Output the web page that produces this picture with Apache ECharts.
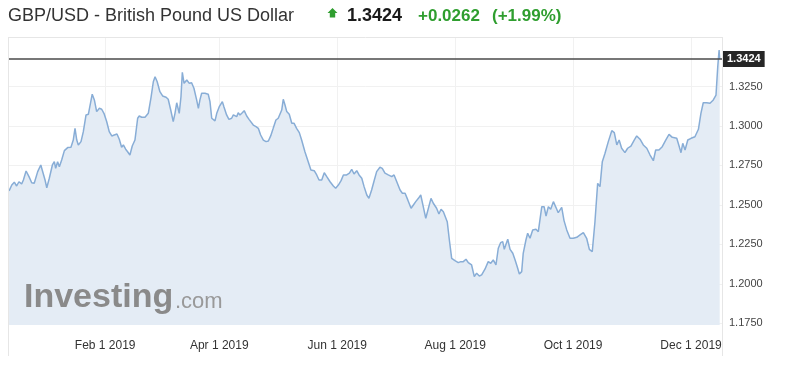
<!DOCTYPE html>
<html><head><meta charset="utf-8">
<script src="https://cdn.jsdelivr.net/npm/echarts@6/dist/echarts.min.js"></script>
<style>html,body{margin:0;padding:0;background:#fff;}#c{width:803px;height:375px;}</style>
</head><body><div id="c"></div>
<script>
const titleText = 'GBP/USD - British Pound US Dollar';
const lastPrice = 1.3424;
const changeText = '+0.0262';
const changePctText = '(+1.99%)';
// x positions: days since 2019-01-01
const tickDays = [31, 90, 151, 212, 273, 334];
const tickLabels = ['Feb 1 2019', 'Apr 1 2019', 'Jun 1 2019', 'Aug 1 2019', 'Oct 1 2019', 'Dec 1 2019'];
const yTicks = [1.175, 1.2, 1.225, 1.25, 1.275, 1.3, 1.325];

const dayOffsets = [
-18.7,-17.3,-16.0,-14.8,-13.6,-12.2,-11.3,-9.9,-8.4,-7.0,
-5.7,-3.9,-2.3,-1.3,-0.1,0.8,2.1,3.7,4.7,5.4,
6.4,7.3,8.5,9.9,11.6,13.3,14.5,15.4,16.3,17.1,
18.5,19.7,21.1,22.3,23.1,24.3,25.4,26.6,28.0,29.2,
30.5,31.8,33.1,34.4,35.7,37.1,38.3,39.5,40.4,41.6,
42.6,43.8,45.0,46.4,47.8,48.6,49.9,51.6,53.3,54.7,
55.9,56.8,57.9,59.3,60.7,62.5,63.6,64.9,66.2,67.1,
68.0,69.3,70.2,70.9,71.8,73.2,74.5,75.7,76.9,78.3,
79.2,80.0,80.9,82.6,84.3,85.2,86.1,87.8,88.7,90.0,
91.6,92.4,93.8,95.0,96.4,97.3,98.1,99.0,99.8,100.7,
101.9,102.9,104.2,105.4,106.3,107.6,109.0,110.2,111.4,112.8,
114.2,115.4,116.6,117.9,119.3,120.5,121.4,122.3,123.1,124.0,
124.9,126.2,127.5,128.7,130.0,131.4,132.6,134.3,136.0,137.4,
139.1,140.4,141.6,143.0,144.3,145.6,147.3,149.0,150.2,151.6,
153.0,154.2,155.9,157.3,158.5,159.7,161.1,162.3,163.7,164.9,
166.3,167.4,168.8,170.2,171.4,173.1,174.3,175.7,177.4,179.2,
180.4,181.8,183.5,184.7,186.1,187.5,189.2,190.4,191.6,193.0,
194.2,195.5,196.8,197.8,199.5,200.7,202.4,203.6,204.7,205.9,
206.7,207.9,209.0,210.2,211.9,213.6,214.9,216.2,217.6,218.8,
220.5,221.9,223.1,224.5,225.7,227.4,229.1,230.4,231.7,233.1,
234.3,235.5,236.6,237.4,239.2,240.4,241.8,243.0,244.1,245.2,
246.4,247.2,248.6,249.5,250.7,252.1,253.8,255.0,256.8,258.0,
259.0,260.2,261.4,262.8,264.1,265.3,267.1,268.3,269.7,271.4,
273.1,274.9,276.6,278.3,280.0,281.4,282.9,284.3,285.7,286.9,
288.1,289.5,291.2,293.0,294.3,295.6,296.8,298.1,299.8,301.2,
302.9,304.6,305.9,307.6,309.3,311.1,312.8,314.5,315.7,317.4,
319.1,320.9,322.6,324.3,326.6,327.8,328.8,329.7,330.9,332.3,
334.0,336.0,337.8,339.1,340.3,342.1,343.8,345.5,346.9,347.8,
348.5,348.8
];
const rates = [
1.2589,1.2626,1.2644,1.2620,1.2647,1.2633,1.2658,1.2715,1.2679,1.2641,
1.2637,1.2711,1.2753,1.2742,1.2658,1.2609,1.2669,1.2753,1.2774,1.2732,
1.2774,1.2742,1.2785,1.2844,1.2863,1.2865,1.2911,1.2985,1.2911,1.2880,
1.2901,1.2964,1.3070,1.3074,1.3080,1.3201,1.3165,1.3091,1.3112,1.3106,
1.3076,1.3027,1.2964,1.2937,1.2943,1.2949,1.2916,1.2865,1.2880,1.2853,
1.2837,1.2816,1.2873,1.2911,1.3049,1.3063,1.3055,1.3055,1.3080,1.3180,
1.3280,1.3312,1.3280,1.3217,1.3190,1.3182,1.3169,1.3101,1.3027,1.3080,
1.3147,1.3080,1.3185,1.3340,1.3270,1.3291,1.3270,1.3274,1.3239,1.3165,
1.3112,1.3165,1.3207,1.3207,1.3201,1.3154,1.3049,1.3032,1.3080,1.3122,
1.3154,1.3122,1.3070,1.3042,1.3049,1.3070,1.3080,1.3059,1.3084,1.3070,
1.3084,1.3097,1.3063,1.3042,1.3038,1.3006,1.2996,1.2985,1.2943,1.2911,
1.2901,1.2905,1.2937,1.2985,1.3038,1.3049,1.3042,1.3101,1.3169,1.3133,
1.3091,1.3074,1.3017,1.3017,1.2985,1.2958,1.2911,1.2837,1.2774,1.2721,
1.2717,1.2690,1.2658,1.2658,1.2704,1.2679,1.2647,1.2620,1.2606,1.2626,
1.2654,1.2690,1.2690,1.2701,1.2726,1.2696,1.2717,1.2690,1.2669,1.2616,
1.2563,1.2542,1.2595,1.2658,1.2711,1.2739,1.2732,1.2701,1.2690,1.2679,
1.2690,1.2647,1.2595,1.2574,1.2574,1.2532,1.2479,1.2500,1.2521,1.2542,
1.2563,1.2489,1.2416,1.2426,1.2542,1.2511,1.2479,1.2443,1.2473,1.2457,
1.2451,1.2394,1.2278,1.2162,1.2147,1.2135,1.2141,1.2141,1.2156,1.2135,
1.2120,1.2046,1.2068,1.2050,1.2057,1.2093,1.2141,1.2131,1.2152,1.2120,
1.2226,1.2261,1.2268,1.2219,1.2283,1.2219,1.2194,1.2152,1.2109,1.2063,
1.2078,1.2194,1.2278,1.2321,1.2289,1.2342,1.2346,1.2331,1.2489,1.2489,
1.2430,1.2489,1.2473,1.2521,1.2485,1.2451,1.2485,1.2401,1.2342,1.2289,
1.2289,1.2295,1.2310,1.2325,1.2289,1.2219,1.2204,1.2394,1.2637,1.2616,
1.2774,1.2827,1.2901,1.2970,1.2958,1.2880,1.2911,1.2859,1.2831,1.2859,
1.2873,1.2911,1.2937,1.2916,1.2880,1.2859,1.2816,1.2780,1.2848,1.2848,
1.2869,1.2911,1.2947,1.2928,1.2922,1.2873,1.2831,1.2890,1.2848,1.2911,
1.2922,1.2932,1.2979,1.3080,1.3147,1.3147,1.3144,1.3165,1.3196,1.3375,
1.3481,1.3424
];

const FONT = '"Liberation Sans", Arial, sans-serif';
const GREEN = '#2f9e2f';
const chart = echarts.init(document.getElementById('c'), null, {renderer: 'canvas'});
chart.setOption({
  animation: false,
  backgroundColor: '#fff',
  grid: {left: 9, right: 81, top: 38, bottom: 50, containLabel: false},
  xAxis: {
    type: 'value', min: -18.74, max: 350.0,
    axisLine: {show: false},
    axisTick: {show: false, customValues: tickDays},
    splitLine: {show: true, lineStyle: {color: '#f1f1f1', width: 1}},
    axisLabel: {
      customValues: tickDays, margin: 15,
      fontFamily: FONT, fontSize: 12, color: '#333',
      formatter: function (v) { const i = tickDays.indexOf(Math.round(v)); return i >= 0 ? tickLabels[i] : ''; }
    }
  },
  yAxis: {
    type: 'value', position: 'right', min: 1.174, max: 1.3557,
    axisLine: {show: false},
    axisTick: {show: false, customValues: yTicks},
    splitLine: {show: true, lineStyle: {color: '#f1f1f1', width: 1}},
    axisLabel: {
      customValues: yTicks, margin: 7,
      fontFamily: FONT, fontSize: 11, color: '#444',
      formatter: function (v) { return v.toFixed(4); }
    }
  },
  series: [{
    type: 'line',
    data: dayOffsets.map((d, i) => [d, rates[i]]),
    showSymbol: false,
    symbol: 'none',
    lineStyle: {color: '#88add6', width: 1.5},
    areaStyle: {color: '#e4ecf5', opacity: 1, origin: 'start'},
    markLine: {
      silent: true, symbol: 'none', precision: 4,
      data: [{yAxis: lastPrice}],
      lineStyle: {color: '#4a4a4a', width: 1.5, type: 'solid'},
      label: {
        position: 'end', distance: 1,
        formatter: lastPrice.toFixed(4),
        color: '#fff', backgroundColor: '#262626',
        padding: [3, 4, 2, 4], fontSize: 11, fontWeight: 'bold', fontFamily: FONT
      }
    }
  }],
  graphic: [
    {type: 'line', shape: {x1: 8.5, y1: 37, x2: 8.5, y2: 356}, style: {stroke: '#e6e6e6', lineWidth: 1}, z: 100},
    {type: 'line', shape: {x1: 722.5, y1: 37, x2: 722.5, y2: 356}, style: {stroke: '#e6e6e6', lineWidth: 1}, z: 100},
    {type: 'line', shape: {x1: 8, y1: 37.5, x2: 723, y2: 37.5}, style: {stroke: '#e6e6e6', lineWidth: 1}, z: 100},
    {type: 'text', x: 8, y: 16, style: {text: titleText, fontFamily: FONT, fontSize: 18, fill: '#333', align: 'left', verticalAlign: 'middle'}},
    {type: 'polygon', shape: {points: [[332.5, 8], [337.5, 13], [335.2, 13], [335.2, 17.5], [329.8, 17.5], [329.8, 13], [327.5, 13]]}, style: {fill: GREEN}},
    {type: 'text', x: 347, y: 16, style: {text: lastPrice.toFixed(4), fontFamily: FONT, fontSize: 18, fontWeight: 'bold', fill: '#1a1a1a', align: 'left', verticalAlign: 'middle'}},
    {type: 'text', x: 418, y: 16, style: {text: changeText, fontFamily: FONT, fontSize: 17, fontWeight: 'bold', fill: GREEN, align: 'left', verticalAlign: 'middle'}},
    {type: 'text', x: 492, y: 16, style: {text: changePctText, fontFamily: FONT, fontSize: 17, fontWeight: 'bold', fill: GREEN, align: 'left', verticalAlign: 'middle'}},
    {type: 'text', x: 24, y: 298, z: 50, style: {text: 'Investing', fontFamily: FONT, fontSize: 34, fontWeight: 'bold', fill: '#8a8a8a', align: 'left', verticalAlign: 'middle'}},
    {type: 'text', x: 175, y: 302, z: 50, style: {text: '.com', fontFamily: FONT, fontSize: 22, fill: '#999', align: 'left', verticalAlign: 'middle'}}
  ]
});
</script>
</body></html>
